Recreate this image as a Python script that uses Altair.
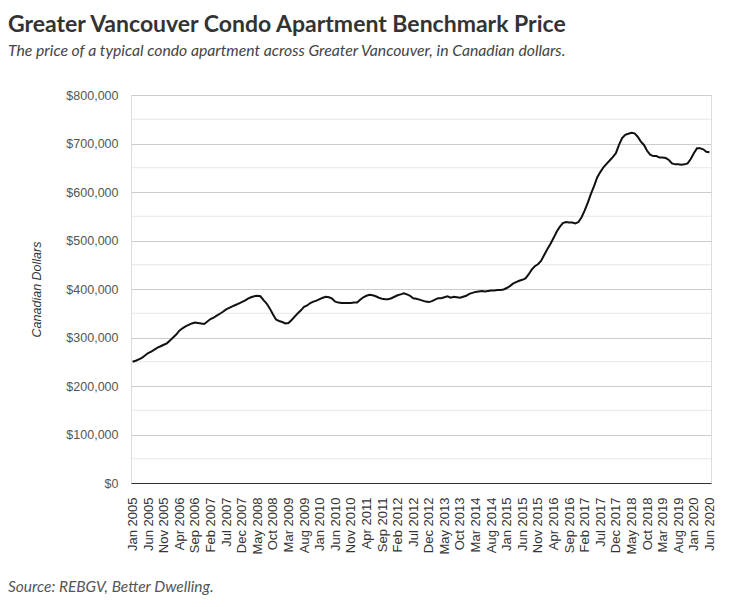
import altair as alt
import pandas as pd

MONTHS = ["Jan", "Feb", "Mar", "Apr", "May", "Jun", "Jul", "Aug", "Sep", "Oct", "Nov", "Dec"]

# Benchmark price, thousands of CAD, Jan 2005 .. Jun 2020 (monthly)
p2005 = [250, 252, 255, 258, 263, 268, 271, 275, 279, 282, 285, 288]
p2006 = [294, 300, 306, 314, 319, 323, 326, 329, 331, 330, 329, 328]
p2007 = [333, 338, 341, 345, 349, 353, 358, 361, 364, 367, 370, 373]
p2008 = [376, 380, 383, 385, 386, 385, 377, 370, 360, 348, 337, 334]
p2009 = [332, 329, 330, 336, 343, 350, 356, 363, 366, 371, 374, 376]
p2010 = [379, 382, 384, 383, 380, 374, 372, 371, 371, 371, 371, 372]
p2011 = [372, 378, 383, 386, 388, 387, 385, 382, 380, 379, 379, 381]
p2012 = [384, 387, 389, 391, 389, 386, 381, 380, 378, 376, 374, 373]
p2013 = [375, 378, 381, 381, 383, 385, 382, 384, 383, 382, 384, 386]
p2014 = [390, 392, 394, 395, 396, 395, 396, 397, 397, 398, 398, 399]
p2015 = [402, 406, 411, 414, 417, 419, 422, 430, 440, 447, 451, 458]
p2016 = [470, 482, 493, 505, 518, 528, 536, 538, 537, 537, 535, 538]
p2017 = [548, 562, 578, 596, 612, 630, 641, 651, 658, 665, 672, 680]
p2018 = [697, 711, 718, 720, 722, 721, 714, 704, 697, 685, 677, 674]
p2019 = [674, 671, 671, 670, 666, 659, 657, 657, 656, 657, 659, 668]
p2020 = [680, 690, 690, 688, 683, 682]

series = [p2005, p2006, p2007, p2008, p2009, p2010, p2011, p2012,
          p2013, p2014, p2015, p2016, p2017, p2018, p2019, p2020]
years = list(range(2005, 2021))

labels, prices = [], []
for yr, vals in zip(years, series):
    for i, v in enumerate(vals):
        labels.append(f"{MONTHS[i]} {yr}")
        prices.append(v * 1000)

tick_labels = labels[::5]
major_ticks = [0, 100000, 200000, 300000, 400000, 500000, 600000, 700000, 800000]
minor_grid = [50000, 150000, 250000, 350000, 450000, 550000, 650000, 750000]

title_text = "Greater Vancouver Condo Apartment Benchmark Price"
subtitle_text = "The price of a typical condo apartment across Greater Vancouver, in Canadian dollars."
source_text = "Source: REBGV, Better Dwelling."

df = pd.DataFrame({"month": labels, "price": prices})
grid_df = pd.DataFrame({"v": minor_grid})
src_df = pd.DataFrame({"t": [source_text]})

yscale = alt.Scale(domain=[0, 800000], nice=False, zero=True)

minor = alt.Chart(grid_df).mark_rule(color="#e6e6e6", strokeWidth=1).encode(
    y=alt.Y("v:Q", scale=yscale)
)

line = alt.Chart(df).mark_line(color="#111111", strokeWidth=2).encode(
    x=alt.X(
        "month:O",
        sort=None,
        scale=alt.Scale(type="point", padding=0.5),
        axis=alt.Axis(
            values=tick_labels,
            title=None,
            labelAngle=-90,
            labelFont="Liberation Sans",
            labelFontSize=13,
            labelColor="#333333",
            labelPadding=14,
            ticks=False,
            domainColor="#333333",
            domainWidth=1,
            grid=False,
        ),
    ),
    y=alt.Y(
        "price:Q",
        scale=yscale,
        axis=alt.Axis(
            values=major_ticks,
            format="$,.0f",
            title="Canadian Dollars",
            titleFont="Liberation Sans",
            titleFontStyle="italic",
            titleFontWeight="normal",
            titleFontSize=12.5,
            titleColor="#333333",
            titlePadding=22,
            labelFont="Liberation Sans",
            labelFontSize=12.5,
            labelColor="#555555",
            labelPadding=13,
            ticks=False,
            domain=False,
            grid=True,
            gridColor="#cccccc",
            gridWidth=1,
        ),
    ),
)

source = alt.Chart(src_df).mark_text(
    font="Lato", fontSize=15.5, fontStyle="italic", color="#555555",
    align="left", baseline="middle"
).encode(
    x=alt.value(-123), y=alt.value(492), text="t:N"
)

chart = alt.layer(minor, line, source).properties(
    width=580,
    height=388,
    padding={"left": 123, "top": 87, "right": 22, "bottom": 116},
    autosize=alt.AutoSizeParams(type="none"),
    title=alt.TitleParams(
        text=title_text,
        subtitle=subtitle_text,
        anchor="start",
        frame="group",
        dx=-123,
        offset=30,
        font="Lato",
        fontSize=23,
        fontWeight="bold",
        color="#333333",
        subtitleFont="Lato",
        subtitleFontStyle="italic",
        subtitleFontSize=15.75,
        subtitleColor="#444444",
        subtitlePadding=7,
    ),
).configure_view(stroke=None).configure(background="white")

chart.save("out.html", embed_options={"renderer": "svg", "actions": False})
